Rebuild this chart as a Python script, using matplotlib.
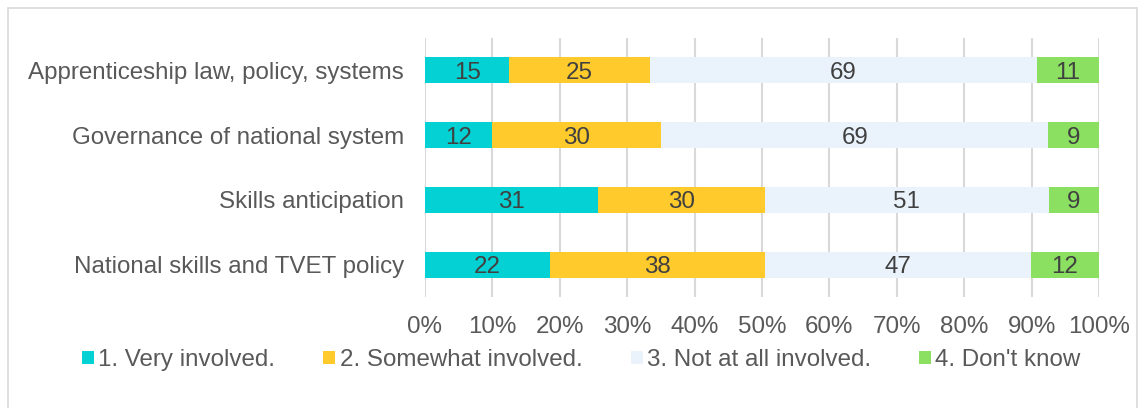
import numpy as np
import matplotlib.pyplot as plt
from matplotlib.patches import Rectangle

plt.rcParams['font.family'] = ['Liberation Sans', 'DejaVu Sans']

categories = ["Apprenticeship law, policy, systems", "Governance of national system",
              "Skills anticipation", "National skills and TVET policy"]
series = ["1. Very involved.", "2. Somewhat involved.", "3. Not at all involved.", "4. Don't know"]
very = [15, 12, 31, 22]
somewhat = [25, 30, 30, 38]
not_at_all = [69, 69, 51, 47]
dont_know = [11, 9, 9, 12]
colors = ["#04D1D3", "#FFCA2C", "#EAF3FC", "#8BE062"]

data = np.array([very, somewhat, not_at_all, dont_know], dtype=float)
pct = data / data.sum(axis=0) * 100

FS = 17.4

fig = plt.figure(figsize=(11.45, 4.08), dpi=100)
ax = fig.add_axes([425 / 1145, 1 - 297 / 408, 674 / 1145, 259 / 408])

# outer frame
fig.patches.append(Rectangle((8 / 1145, -0.1), 1129 / 1145, 1.1 - 8 / 408, transform=fig.transFigure,
                             fill=False, edgecolor="#d9d9d9", linewidth=1.2))

y = np.arange(len(categories))
left = np.zeros(len(categories))
for i in range(len(series)):
    ax.barh(y, pct[i], left=left, height=0.4, color=colors[i], label=series[i], zorder=3)
    for j in range(len(categories)):
        ax.text(left[j] + pct[i][j] / 2, y[j], str(int(data[i][j])), ha="center", va="center_baseline",
                fontsize=FS, color="#404040", zorder=4)
    left += pct[i]

ax.set_xlim(0, 100)
ax.set_ylim(3.5, -0.5)
ax.set_xticks(np.arange(0, 101, 10))
ax.set_xticklabels([f"{v}%" for v in range(0, 101, 10)])
ax.set_yticks(y)
ax.set_yticklabels(categories)
ax.tick_params(axis="both", length=0, labelsize=FS, labelcolor="#595959")
ax.tick_params(axis="x", pad=14)
ax.tick_params(axis="y", pad=15)
ax.grid(axis="x", color="#d9d9d9", linewidth=1.5, zorder=0)
for s in ax.spines.values():
    s.set_visible(False)

fig.legend(loc="center left", bbox_to_anchor=(82 / 1145, 1 - 360 / 408), ncol=4, frameon=False,
           fontsize=FS, labelcolor="#595959", handlelength=0.5, handleheight=0.5,
           handletextpad=0.17, columnspacing=2.0, borderpad=0, borderaxespad=0)

fig.savefig("out.png", dpi=100)
